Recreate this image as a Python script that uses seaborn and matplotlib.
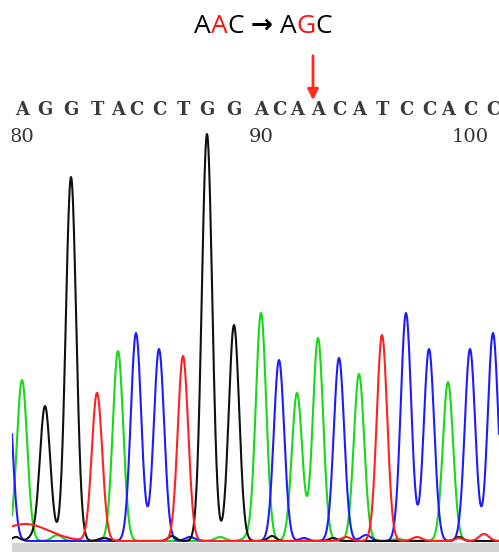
import numpy as np
import pandas as pd
import matplotlib
matplotlib.use("Agg")
import matplotlib.pyplot as plt
import seaborn as sns

# base calls and the trace peaks under them
bases = list("AGGTACCTGGACAACATCCACC")
call_pos = [22, 45, 71, 97, 118, 136, 159, 183, 207, 234, 261,
            279, 297, 318, 339, 359, 382, 406, 429, 448, 470, 493]
peak_height = [161, 135, 364, 148, 190, 208, 192, 185, 407, 216, 228,
               181, 148, 203, 183, 167, 206, 228, 192, 159, 192, 208]
first_number = 80
mut_index = 13

# partial / background peaks: (base, position, height, width)
extra_peaks = [
    ("C", 7, 170, 5.2),
    ("T", 25, 17, 24),
    ("G", 16, 4, 4), ("G", 31, 3, 4), ("G", 104, 3, 5), ("G", 172, 5, 4),
    ("G", 272, 5, 4), ("G", 333, 3, 4), ("G", 459, 4, 4),
    ("A", 57, 6, 5), ("A", 220, 4, 5), ("A", 247, 3, 5), ("A", 398, 2, 5),
    ("C", 190, 4, 5), ("C", 304, 3, 4), ("C", 366, 6, 5),
    ("T", 346, 4, 5), ("T", 417, 4, 5), ("T", 459, 3, 4), ("T", 484, 7, 5),
]

colors = {"A": "#18d818", "C": "#1c1cff", "G": "#101010", "T": "#ff2020"}
sigma = 5.2

scan = np.arange(12, 499.5, 0.5)
signal = {b: np.zeros_like(scan) for b in "ACGT"}
for b, p, h in zip(bases, call_pos, peak_height):
    signal[b] += h * np.exp(-(scan - p) ** 2 / (2 * sigma ** 2))
for b, p, h, w in extra_peaks:
    signal[b] += h * np.exp(-(scan - p) ** 2 / (2 * w ** 2))

df = pd.concat([pd.DataFrame({"scan": scan, "signal": signal[b], "base": b})
                for b in "ACGT"])

sns.set_style("white")
fig = plt.figure(figsize=(4.99, 5.52), dpi=100)
ax = fig.add_axes([12 / 499, 0, 487 / 499, 1])

sns.lineplot(data=df, x="scan", y="signal", hue="base", hue_order=["A", "C", "G", "T"],
             palette=colors, estimator=None, sort=False, linewidth=1.5, legend=False, ax=ax)

ax.set_xlim(12, 499)
ax.set_ylim(-11, 541)
ax.axhspan(-11, -2, color="#d2d2d2", lw=0)
ax.axis("off")

# base letters and position numbers
for i, (b, p) in enumerate(zip(bases, call_pos)):
    ax.text(p, 431, b, ha="center", va="center", family="DejaVu Serif",
            fontweight="bold", fontsize=13, color="#3a3a3a")
    if i % 10 == 0:
        ax.text(p, 404, str(first_number + i), ha="center", va="center",
                family="DejaVu Serif", fontsize=14, color="#333333", clip_on=True)

# mutation arrow
mx = call_pos[mut_index] - 5
ax.annotate("", xy=(mx, 541 - 103), xytext=(mx, 541 - 53),
            arrowprops=dict(arrowstyle="-|>", color="#ff2a1a", lw=2, mutation_scale=16))

# title AAC -> AGC
pieces = [("A", "black"), ("A", "#ff1010"), ("C", "black"), (" \u2192 ", "black"),
          ("A", "black"), ("G", "#ff1010"), ("C", "black")]
prev = None
for s, c in pieces:
    kw = dict(fontsize=19, color=c, family=["Open Sans", "DejaVu Sans"], va="bottom", ha="left")
    if s.strip() == "\u2192":
        kw["fontweight"] = "bold"
    if prev is None:
        prev = fig.text(194 / 499, 1 - 39 / 552, s, **kw)
    else:
        prev = ax.annotate(s, xy=(1, 0), xycoords=prev, annotation_clip=False, **kw)

fig.savefig("out.png", dpi=100)
